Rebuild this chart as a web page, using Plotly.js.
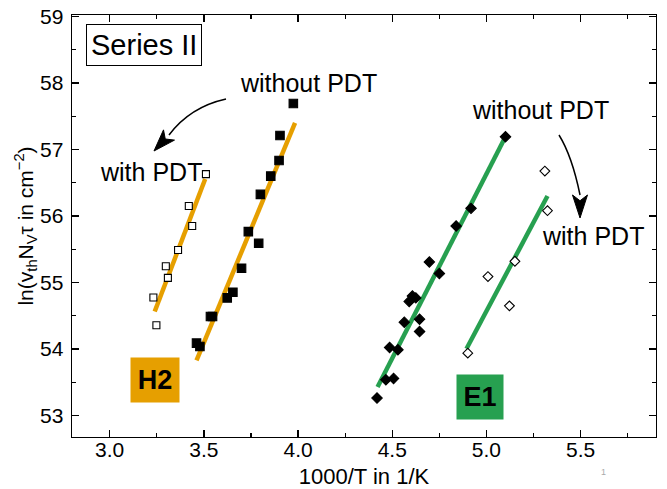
<!DOCTYPE html>
<html>
<head>
<meta charset="utf-8">
<script src="https://cdn.plot.ly/plotly-3.0.1.min.js"></script>
<style>html,body{margin:0;padding:0;background:#fff}#chart{width:667px;height:489px}</style>
</head>
<body>
<div id="chart"></div>
<script>
// ---- data ----
const h2WithX = [3.511, 3.420, 3.438, 3.363, 3.298, 3.309, 3.232, 3.248];
const h2WithY = [56.63, 56.15, 55.85, 55.49, 55.245, 55.07, 54.775, 54.36];

const h2WithoutX = [3.975, 3.904, 3.899, 3.855, 3.800, 3.736, 3.791, 3.700, 3.654, 3.624, 3.535, 3.546, 3.461, 3.479];
const h2WithoutY = [57.69, 57.21, 56.835, 56.60, 56.325, 55.765, 55.59, 55.215, 54.855, 54.77, 54.49, 54.49, 54.09, 54.04];

const e1WithoutX = [5.101, 4.918, 4.839, 4.697, 4.750, 4.607, 4.590, 4.625, 4.564, 4.645, 4.645, 4.486, 4.530, 4.466, 4.507, 4.419];
const e1WithoutY = [57.19, 56.115, 55.85, 55.31, 55.135, 54.80, 54.715, 54.77, 54.405, 54.45, 54.265, 54.025, 53.99, 53.54, 53.56, 53.265];

const e1WithX = [5.310, 5.324, 5.151, 5.008, 5.122, 4.901];
const e1WithY = [56.675, 56.08, 55.32, 55.09, 54.65, 53.94];

// fitted lines (end points)
const h2WithFitX = [3.239, 3.507];
const h2WithFitY = [54.565, 56.555];
const h2WithoutFitX = [3.461, 3.984];
const h2WithoutFitY = [53.83, 57.40];
const e1WithoutFitX = [4.422, 5.096];
const e1WithoutFitY = [53.43, 57.165];
const e1WithFitX = [4.894, 5.324];
const e1WithFitY = [54.005, 56.30];

const xTitle = '1000/T in 1/K';
const yTitle = 'ln(v<sub>th</sub>N<sub>V</sub>τ in cm<sup>−2</sup>)';

// ---- styling ----
const ORANGE = '#E69F00';
const GREEN = '#27A050';
const FONT = 'Arial, "Liberation Sans", sans-serif';

// plot area in pixels (for annotation placement)
const L = 72, R = 656, T = 15, B = 437;
const px = x => (x - L) / (R - L);
const py = y => (B - y) / (B - T);

function fitLine(x, y, c) {
  return {x: x, y: y, mode: 'lines', line: {color: c, width: 4.5}, hoverinfo: 'skip', showlegend: false};
}
function pts(x, y, sym, fill, size) {
  return {x: x, y: y, mode: 'markers', showlegend: false,
    marker: {symbol: sym, size: size, color: fill, line: {color: '#000', width: 1.1}}};
}

const data = [
  fitLine(h2WithFitX, h2WithFitY, ORANGE),
  fitLine(h2WithoutFitX, h2WithoutFitY, ORANGE),
  fitLine(e1WithoutFitX, e1WithoutFitY, GREEN),
  fitLine(e1WithFitX, e1WithFitY, GREEN),
  pts(h2WithX, h2WithY, 'square', '#fff', 7),
  pts(h2WithoutX, h2WithoutY, 'square', '#000', 8.5),
  pts(e1WithoutX, e1WithoutY, 'diamond', '#000', 8),
  pts(e1WithX, e1WithY, 'diamond', '#fff', 7.5)
];

function ann(text, x, y, size, opts) {
  return Object.assign({text: text, xref: 'paper', yref: 'paper', x: px(x), y: py(y),
    xanchor: 'center', yanchor: 'middle', showarrow: false,
    font: {family: FONT, size: size, color: '#000'}}, opts || {});
}

// curved arrows
function arrowShapes(sx, sy, qx, qy, ex, ey, tx, ty, hw) {
  const dx = tx - ex, dy = ty - ey, len = Math.hypot(dx, dy);
  const nx = -dy / len * hw, ny = dx / len * hw;
  const P = (x, y) => px(x).toFixed(4) + ',' + py(y).toFixed(4);
  return [
    {type: 'path', xref: 'paper', yref: 'paper',
      path: 'M' + P(sx, sy) + ' Q' + P(qx, qy) + ' ' + P(ex, ey),
      line: {color: '#000', width: 1.5}},
    {type: 'path', xref: 'paper', yref: 'paper',
      path: 'M' + P(tx, ty) + ' L' + P(ex + nx, ey + ny) + ' L' + P(ex + dx * 0.25, ey + dy * 0.25) + ' L' + P(ex - nx, ey - ny) + ' Z',
      fillcolor: '#000', line: {color: '#000', width: 1}}
  ];
}

const shapes = [].concat(
  arrowShapes(226, 99, 190, 107, 169, 135, 154, 151, 7.5),
  arrowShapes(559, 135, 572, 156, 580, 195, 580, 218, 7.5)
);

const annotations = [
  ann('Series II', 144.2, 45.3, 29, {bordercolor: '#000', borderwidth: 1, borderpad: 4, bgcolor: '#fff'}),
  ann('without PDT', 308, 83, 25),
  ann('with PDT', 151, 171.5, 25),
  ann('without PDT', 540, 110.5, 25),
  ann('with PDT', 593, 236.5, 25),
  ann('<b>H2</b>', 155.3, 379.5, 27, {bgcolor: ORANGE, width: 42, height: 38, borderpad: 3}),
  ann('<b>E1</b>', 479.5, 396.5, 27, {bgcolor: GREEN, width: 40, height: 38, borderpad: 3}),
  ann('1', 603, 472, 9, {font: {family: FONT, size: 9, color: '#aaa'}})
];

const axisCommon = {
  showline: true, linecolor: '#000', linewidth: 1.4, mirror: 'ticks',
  ticks: 'inside', ticklen: 7, tickwidth: 1.3, tickcolor: '#000',
  showgrid: false, zeroline: false,
  tickfont: {family: FONT, size: 21, color: '#000'}
};

const layout = {
  width: 667, height: 489,
  margin: {l: L, r: 667 - R, t: T, b: 489 - B, pad: 0},
  paper_bgcolor: '#fff', plot_bgcolor: '#fff',
  showlegend: false,
  font: {family: FONT, color: '#000'},
  xaxis: Object.assign({}, axisCommon, {
    range: [2.8, 5.9], tick0: 3.0, dtick: 0.5, tickformat: '.1f',
    ticklabelstandoff: -7,
    minor: {dtick: 0.25, tick0: 3.0, ticks: 'inside', ticklen: 4, tickwidth: 1.2, tickcolor: '#000', showgrid: false},
    title: {text: xTitle, font: {family: FONT, size: 22, color: '#000'}, standoff: 11}
  }),
  yaxis: Object.assign({}, axisCommon, {
    range: [52.68, 59.02], tick0: 53, dtick: 1,
    ticklabelstandoff: 3,
    minor: {dtick: 0.5, tick0: 53, ticks: 'inside', ticklen: 4, tickwidth: 1.2, tickcolor: '#000', showgrid: false},
    title: {text: yTitle, font: {family: FONT, size: 21, color: '#000'}, standoff: 0}
  }),
  shapes: shapes,
  annotations: annotations
};

Plotly.newPlot('chart', data, layout, {displayModeBar: false, staticPlot: true});
</script>
</body>
</html>
